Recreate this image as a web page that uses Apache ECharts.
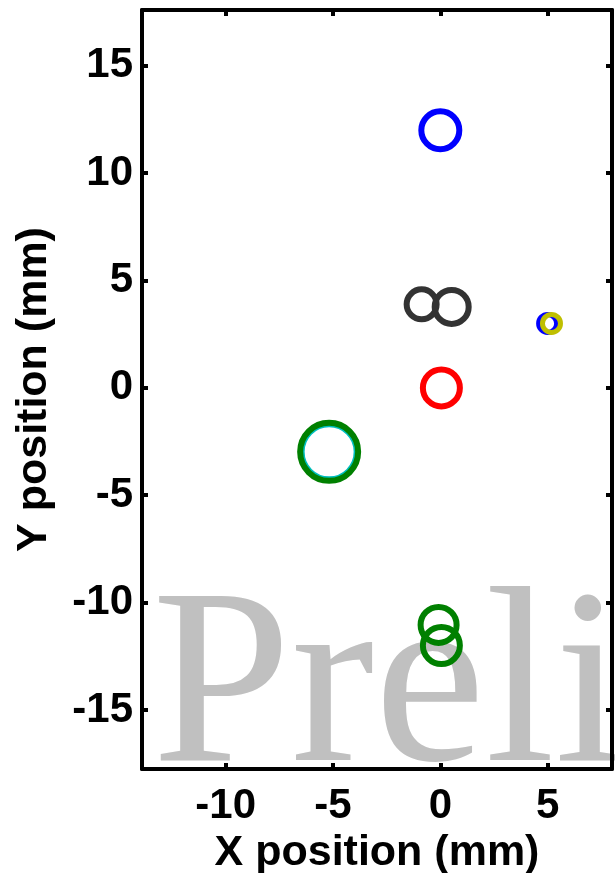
<!DOCTYPE html>
<html>
<head>
<meta charset="utf-8">
<script src="https://cdn.jsdelivr.net/npm/echarts@6/dist/echarts.min.js"></script>
<style>
html,body{margin:0;padding:0;background:#fff;}
#chart{width:615px;height:873px;}
</style>
</head>
<body>
<div id="chart"></div>
<script>
// Data (mm)
const markerNames = ['blue', 'darkA', 'darkB', 'smallBlue', 'smallYellow', 'red', 'cyanBig', 'greenBig', 'greenTop', 'greenBottom'];
const markerX = [0.0, -0.87, 0.53, 5.0, 5.18, 0.05, -5.18, -5.18, -0.08, 0.05];
const markerY = [12.0, 3.89, 3.77, 3.0, 3.0, 0.0, -2.98, -2.98, -11.04, -12.0];
const markerDiameter = [38, 30, 34, 18, 18, 37, 52, 58, 36, 37];
const xTicks = [-10, -5, 0, 5];
const yTicks = [-15, -10, -5, 0, 5, 10, 15];
const xRange = [-13.9, 8];
const yRange = [-17.75, 17.6];
const xTitle = 'X position (mm)';
const yTitle = 'Y position (mm)';
const watermarkText = 'Preliminary';

const markerColors = ['#0000ff', '#333333', '#333333', '#0000ff', '#bfbf00', '#ff0000', '#00bfbf', '#008000', '#008000', '#008000'];
const markerBorder = [6, 6, 6, 5, 5, 6, 3, 6, 6, 6];

const chart = echarts.init(document.getElementById('chart'), null, {renderer: 'canvas'});
const font = 'Liberation Sans, Arial, sans-serif';

const lineStyle = {color: '#000', width: 4};

const data = markerX.map((x, i) => ({
  name: markerNames[i],
  value: [x, markerY[i]],
  symbolSize: markerDiameter[i],
  itemStyle: {color: 'rgba(0,0,0,0)', borderColor: markerColors[i], borderWidth: markerBorder[i], opacity: 1}
}));

function tickCfg(vals) {
  return {show: true, inside: true, length: 6, customValues: vals, lineStyle: {color: '#000', width: 4}};
}

chart.setOption({
  animation: false,
  backgroundColor: '#fff',
  grid: {left: 142, right: 3, top: 10, bottom: 104, containLabel: false, outerBoundsMode: 'none'},
  xAxis: [
    {
      type: 'value', position: 'bottom', min: xRange[0], max: xRange[1], z: 5,
      axisLine: {show: true, onZero: false, lineStyle: lineStyle},
      splitLine: {show: false},
      axisTick: tickCfg(xTicks),
      axisLabel: {show: true, customValues: xTicks, margin: 16, color: '#000', fontFamily: font, fontWeight: 'bold', fontSize: 42},
      name: xTitle, nameLocation: 'middle', nameGap: 58,
      nameTextStyle: {color: '#000', fontFamily: font, fontWeight: 'bold', fontSize: 43}
    },
    {
      type: 'value', position: 'top', min: xRange[0], max: xRange[1], z: 5,
      axisLine: {show: true, onZero: false, lineStyle: lineStyle},
      splitLine: {show: false},
      axisTick: tickCfg(xTicks),
      axisLabel: {show: false}
    }
  ],
  yAxis: [
    {
      type: 'value', position: 'left', min: yRange[0], max: yRange[1], z: 5,
      axisLine: {show: true, onZero: false, lineStyle: lineStyle},
      splitLine: {show: false},
      axisTick: tickCfg(yTicks),
      axisLabel: {show: true, customValues: yTicks, margin: 9, color: '#000', fontFamily: font, fontWeight: 'bold', fontSize: 42},
      name: yTitle, nameLocation: 'middle', nameGap: 86, nameRotate: 90,
      nameTextStyle: {color: '#000', fontFamily: font, fontWeight: 'bold', fontSize: 43}
    },
    {
      type: 'value', position: 'right', min: yRange[0], max: yRange[1], z: 5,
      axisLine: {show: true, onZero: false, lineStyle: lineStyle},
      splitLine: {show: false},
      axisTick: tickCfg(yTicks),
      axisLabel: {show: false}
    }
  ],
  graphic: [{
    type: 'text', z: 1, silent: true,
    style: {
      text: watermarkText, x: 152, y: 694,
      fill: '#c0c0c0', font: '250px "Liberation Serif", "Times New Roman", serif',
      verticalAlign: 'middle', align: 'left'
    }
  }],
  series: [{
    type: 'scatter', xAxisIndex: 0, yAxisIndex: 0, symbol: 'circle', z: 3,
    itemStyle: {opacity: 1},
    data: data
  }]
});
</script>
</body>
</html>
